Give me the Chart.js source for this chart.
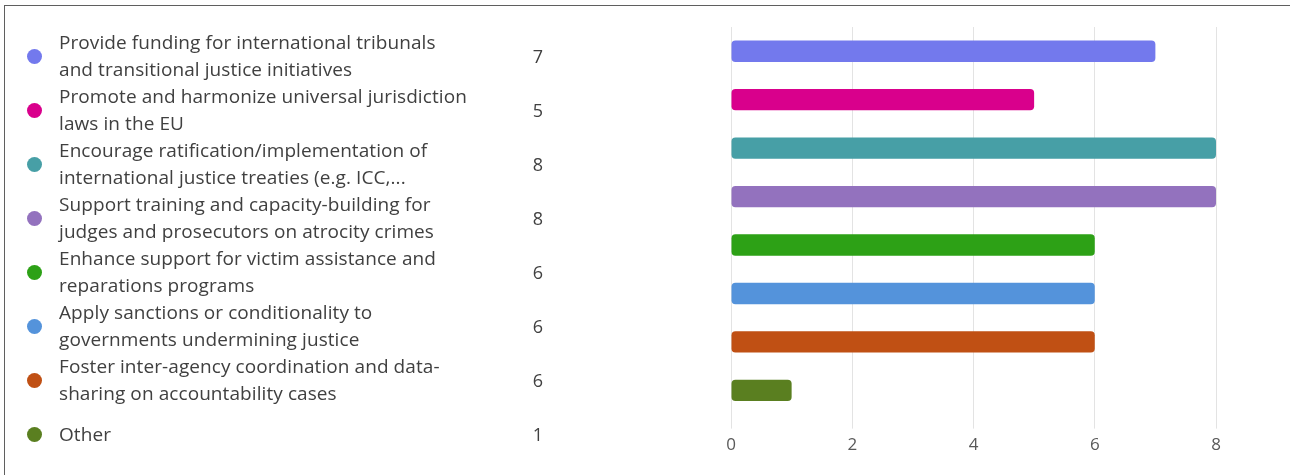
<!DOCTYPE html>
<html>
<head>
<meta charset="utf-8">
<script src="https://cdn.jsdelivr.net/npm/chart.js@4.4.1/dist/chart.umd.min.js"></script>
<style>
  html, body { margin: 0; padding: 0; background: #fff; }
  body { width: 1290px; height: 475px; overflow: hidden; position: relative; font-family: "Open Sans", "Noto Sans", sans-serif; }
  .frame { position: absolute; left: 4px; top: 5px; width: 1300px; height: 500px; border-top: 1px solid #5f5f5f; border-left: 1px solid #5f5f5f; }
  #chartBox { position: absolute; left: 0; top: 0; width: 1290px; height: 475px; }
  .list { position: absolute; left: 0; top: 29px; width: 600px; }
  .row { position: relative; height: 54px; display: flex; align-items: center; }
  .dot { position: absolute; left: 27px; width: 15px; height: 15px; border-radius: 50%; }
  .text { position: absolute; left: 59px; font-size: 19px; line-height: 27px; color: #404040; white-space: nowrap; letter-spacing: 0.08px; }
  .count { position: absolute; left: 523px; width: 30px; text-align: center; font-size: 18px; color: #404040; }
</style>
</head>
<body>
<div class="frame"></div>
<div id="chartBox"><canvas id="chart"></canvas></div>
<div class="list" id="list"></div>
<script>
  // answer options, one array of lines per option
  const categories = [
    ['Provide funding for international tribunals', 'and transitional justice initiatives'],
    ['Promote and harmonize universal jurisdiction', 'laws in the EU'],
    ['Encourage ratification/implementation of', 'international justice treaties (e.g. ICC,...'],
    ['Support training and capacity-building for', 'judges and prosecutors on atrocity crimes'],
    ['Enhance support for victim assistance and', 'reparations programs'],
    ['Apply sanctions or conditionality to', 'governments undermining justice'],
    ['Foster inter-agency coordination and data-', 'sharing on accountability cases'],
    ['Other'],
  ];
  const counts = [7, 5, 8, 8, 6, 6, 6, 1];
  const tickValues = [0, 2, 4, 6, 8];

  const barColors = ['#7379ED', '#D9008C', '#479FA6', '#9372BE', '#2DA116', '#5493DB', '#C05014', '#5A7F20'];

  // left side list
  const list = document.getElementById('list');
  categories.forEach((lines, i) => {
    const row = document.createElement('div');
    row.className = 'row';
    row.innerHTML =
      `<span class="dot" style="background:${barColors[i]}"></span>` +
      `<span class="text">${lines.join('<br>')}</span>` +
      `<span class="count">${counts[i]}</span>`;
    list.appendChild(row);
  });

  new Chart(document.getElementById('chart'), {
    type: 'bar',
    data: {
      labels: categories,
      datasets: [
        {
          data: counts,
          backgroundColor: barColors,
          borderRadius: 4,
          borderSkipped: false,
          barPercentage: 0.44,
          categoryPercentage: 1,
        },
      ],
    },
    options: {
      indexAxis: 'y',
      responsive: true,
      maintainAspectRatio: false,
      animation: false,
      layout: { padding: { left: 731, right: 74, top: 27, bottom: 14 } },
      plugins: { legend: { display: false }, tooltip: { enabled: false } },
      scales: {
        y: { display: false },
        x: {
          min: 0,
          max: 8,
          afterBuildTicks: (axis) => { axis.ticks = tickValues.map((v) => ({ value: v })); },
          border: { display: false },
          grid: { color: '#e3e3e3', lineWidth: 1, tickLength: 14, drawTicks: true },
          ticks: {
            color: '#595959',
            padding: 6,
            font: { family: '"Open Sans", "Noto Sans", sans-serif', size: 17 },
          },
        },
      },
    },
  });
</script>
</body>
</html>
